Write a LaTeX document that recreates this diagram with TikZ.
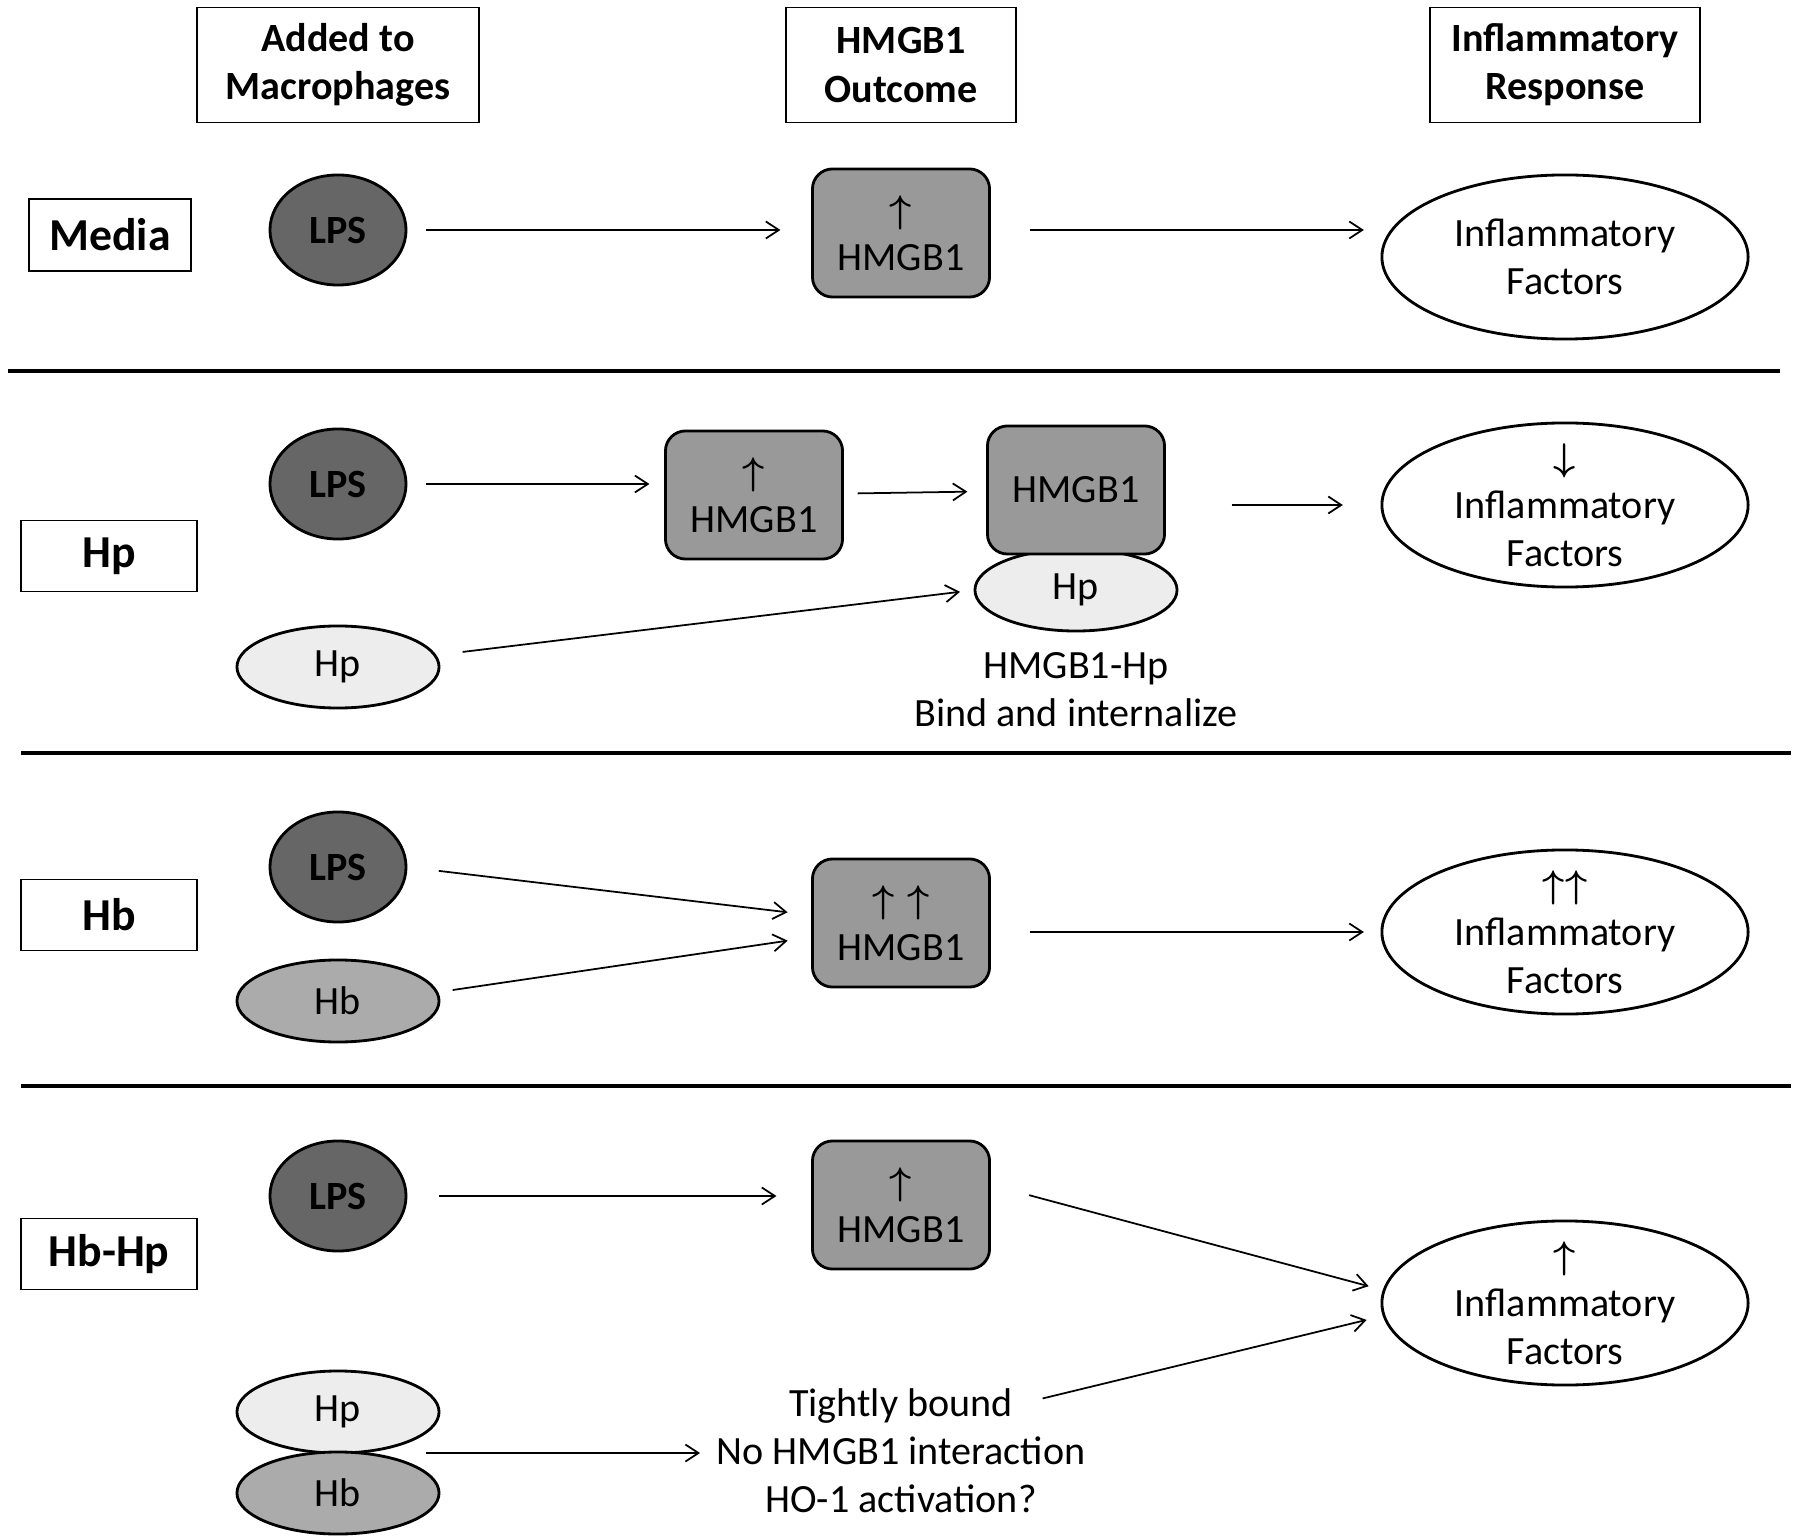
\documentclass[tikz,border=0pt]{standalone}
\usepackage{amsmath}
\usepackage{fontspec}
\setmainfont{Carlito}
\usetikzlibrary{shapes.geometric,arrows.meta}
\newcommand{\figfont}{\fontsize{11.4pt}{13.7pt}\selectfont}
\newcommand{\upa}{$\boldsymbol{\uparrow}$}
\newcommand{\downa}{$\boldsymbol{\downarrow}$}
\tikzset{
  hdr/.style={draw, line width=0.5pt, font=\figfont\bfseries, align=center, inner sep=0pt, minimum height=1.15cm},
  rowbox/.style={draw, line width=0.5pt, font=\fontsize{13pt}{15pt}\selectfont\bfseries, inner sep=0pt, minimum width=1.76cm, minimum height=0.71cm},
  lps/.style={ellipse, draw, line width=0.8pt, fill=black!60, font=\figfont\bfseries, inner sep=0pt, outer sep=0pt, minimum width=1.36cm, minimum height=1.1cm},
  hmg/.style={draw, line width=0.8pt, rounded corners=0.2cm, fill=black!40, font=\figfont, align=center, inner sep=0pt, outer sep=0pt, minimum width=1.77cm, minimum height=1.28cm},
  prot/.style={ellipse, draw, line width=0.8pt, font=\figfont, inner sep=0pt, outer sep=0pt, minimum width=2.02cm, minimum height=0.82cm},
  fact/.style={ellipse, draw, line width=0.8pt, fill=white, font=\figfont, align=center, inner xsep=0pt, inner ysep=-1.5mm, outer sep=0pt, minimum width=3.66cm, minimum height=1.64cm},
  txt/.style={font=\figfont, align=center, inner sep=0pt},
  link/.style={-{Straight Barb[length=1.3mm,width=1.7mm]}, line width=0.5pt},
  sep/.style={line width=1.4pt}
}
\begin{document}
\begin{tikzpicture}[x=0.01cm, y=-0.01cm]
  \useasboundingbox (0,0) rectangle (1800,1540);
  % column headers
  \node[hdr, minimum width=2.82cm] (hadd) at (338,65) {Added to\\Macrophages};
  \node[hdr, minimum width=2.30cm] (hout) at (901,65) {HMGB1\\Outcome};
  \node[hdr, minimum width=2.70cm] (hres) at (1565,65) {Inflammatory\\Response};

  % media
  \node[rowbox, minimum width=1.62cm, minimum height=0.72cm] (media) at (110,235) {Media};
  \node[lps] (lps1) at (338,230) {LPS};
  \node[hmg] (hm1) at (901,233) {\upa\\HMGB1};
  \node[fact] (if1) at (1565,257) {Inflammatory\\Factors};
  \draw[link, shorten <=2mm, shorten >=3.2mm] (lps1) -- (lps1 -| hm1.west);
  \draw[link, shorten <=4mm, shorten >=1.8mm] (hm1.east |- lps1) -- (lps1 -| if1.west);
  \draw[sep] (8,371) -- (1780,371);

  % haptoglobin
  \node[rowbox] (hp) at (109,556) {Hp};
  \node[lps] (lps2) at (338,484) {LPS};
  \node[hmg] (hm2) at (754,495) {\upa\\HMGB1};
  \node[prot, fill=black!7] (hpb) at (1076,590) {Hp};
  \node[hmg] (hm3) at (1076,490) {HMGB1};
  \node[prot, fill=black!7] (hp2) at (338,667) {Hp};
  \node[txt] (bind) at (1076,690) {HMGB1-Hp\\Bind and internalize};
  \node[fact] (if2) at (1565,505) {\downa\\Inflammatory\\Factors};
  \draw[link, shorten <=2mm, shorten >=1.6mm] (lps2) -- (lps2 -| hm2.west);
  \draw[link, shorten <=1.5mm, shorten >=2mm] (hm2) -- (hm3);
  \draw[link, shorten <=6.7mm, shorten >=3.9mm] (hm3.east |- if2) -- (if2);
  \draw[link, shorten <=2.8mm, shorten >=1.5mm] (hp2) -- (hpb.west);
  \draw[sep] (21,753) -- (1791,753);

  % haemoglobin
  \node[rowbox] (hb) at (109,915) {Hb};
  \node[lps] (lps3) at (338,867) {LPS};
  \node[prot, fill=black!33] (hb3) at (338,1001) {Hb};
  \node[hmg] (hm4) at (901,923) {\upa\,\,\upa\\HMGB1};
  \node[fact] (if3) at (1565,932) {\upa\upa\\Inflammatory\\Factors};
  \draw[link, shorten <=3.3mm, shorten >=2.5mm] (lps3.east) -- (hm4.175);
  \draw[link, shorten <=1.6mm, shorten >=2.5mm] (hb3.5) -- (hm4.189);
  \draw[link, shorten <=4mm, shorten >=1.8mm] (hm4.east |- if3) -- (if3);
  \draw[sep] (21,1086) -- (1791,1086);

  % haemoglobin-haptoglobin
  \node[rowbox] (hbhp) at (109,1254) {Hb-Hp};
  \node[lps] (lps4) at (338,1196) {LPS};
  \node[hmg] (hm5) at (901,1205) {\upa\\HMGB1};
  \node[fact] (if4) at (1565,1303) {\upa\\Inflammatory\\Factors};
  \node[prot, fill=black!7] (hp4) at (338,1412) {Hp};
  \node[prot, fill=black!33] (hb4) at (338,1493) {Hb};
  \node[txt, anchor=base] (tb) at (901,1416) {Tightly bound};
  \node[txt, anchor=base] (nohm) at (901,1464) {No HMGB1 interaction};
  \node[txt, anchor=base] (ho) at (901,1512) {HO-1 activation?};
  \draw[link, shorten <=3.3mm, shorten >=3.6mm] (lps4) -- (lps4 -| hm5.west);
  \draw[link, shorten <=4.1mm, shorten >=1.6mm] (hm5.13) -- (if4.176);
  \draw[link, shorten <=3mm, shorten >=1.8mm] (tb.east) -- (if4.184);
  \draw[link, shorten <=8.8mm, shorten >=1.6mm] (hp4.south) -- (hp4.south -| nohm.west);
\end{tikzpicture}
\end{document}
